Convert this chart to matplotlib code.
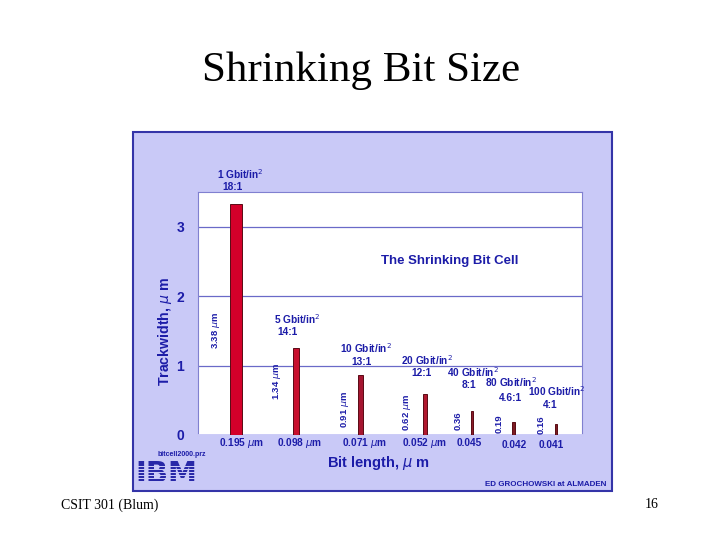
import matplotlib
matplotlib.use("Agg")
import matplotlib.pyplot as plt
from matplotlib.patches import Rectangle

# data
densities = ["1 Gbit/in$^2$", "5 Gbit/in$^2$", "10 Gbit/in$^2$", "20 Gbit/in$^2$",
             "40 Gbit/in$^2$", "80 Gbit/in$^2$", "100 Gbit/in$^2$"]
ratios = ["18:1", "14:1", "13:1", "12:1", "8:1", "4.6:1", "4:1"]
bit_length = [0.195, 0.098, 0.071, 0.052, 0.045, 0.042, 0.041]
bit_labels = ["0.195 $\\mu$m", "0.098 $\\mu$m", "0.071 $\\mu$m", "0.052 $\\mu$m",
              "0.045", "0.042", "0.041"]
track_drawn = [3.33, 1.25, 0.86, 0.59, 0.345, 0.19, 0.16]
track_labels = ["3.38 $\\mu$m", "1.34 $\\mu$m", "0.91 $\\mu$m", "0.62 $\\mu$m",
                "0.36", "0.19", "0.16"]

W, H = 720, 540
navy = "#1c1ca8"
panel = "#c9c9f7"
bar_colors = ["#d4002a", "#c8102e", "#a51530", "#b0182f", "#8c1c2a", "#7c1c22", "#7c1c22"]

fig = plt.figure(figsize=(7.2, 5.4), dpi=100)
fig.patch.set_facecolor("white")


def fx(px):
    return px / W


def fy(py):
    return 1 - py / H


def ftext(px, py, s, **kw):
    fig.text(fx(px), fy(py), s, ha=kw.pop("ha", "center"), va=kw.pop("va", "center"),
             zorder=kw.pop("zorder", 4), **kw)


# slide text
ftext(361, 71, "Shrinking Bit Size", fontsize=31, family="Liberation Serif")
ftext(110, 505, "CSIT 301 (Blum)", fontsize=10, family="Liberation Serif")
ftext(652, 505, "16", fontsize=10, family="Liberation Serif")

# light blue panel behind the chart
fig.patches.append(Rectangle((fx(133), fy(491)), (612 - 133) / W, (491 - 132) / H,
                             transform=fig.transFigure, facecolor=panel,
                             edgecolor="#3434a8", linewidth=1.5, zorder=-1))

ax = fig.add_axes([fx(198), fy(435), (582 - 198) / W, (435 - 192) / H], zorder=1)
ax.set_facecolor("white")
px_per_x = 62.0
ax.set_xlim(0, 384 / px_per_x)
ax.set_ylim(0, 3.5)
for s in ["top", "right", "left"]:
    ax.spines[s].set_color("#8080d0")
    ax.spines[s].set_linewidth(0.8)
ax.spines["bottom"].set_color(panel)
ax.spines["bottom"].set_linewidth(2)
ax.set_xticks([])
ax.set_yticks([0, 1, 2, 3])
ax.tick_params(axis="y", length=0, pad=10, labelsize=10, labelcolor=navy)
for t in ax.get_yticklabels():
    t.set_fontweight("bold")
    t.set_family("Liberation Sans")
ax.grid(axis="y", color="#6a6ac8", linewidth=0.9)
ax.set_axisbelow(True)

bar_px = [236, 296, 360.5, 425, 472, 513.5, 556]
xs = [(p - 198) / px_per_x for p in bar_px]
widths = [b * 61.5 / px_per_x for b in bit_length]
ax.bar(xs, track_drawn, width=widths, color=bar_colors, edgecolor="#5a0a14",
       linewidth=0.7, zorder=3)

font = dict(family="Liberation Sans", color=navy, fontweight="bold")

# density / ratio labels above each bar
dens_pos = [(240, 174), (297, 319), (366, 348), (427, 360), (473, 372), (511, 382), (557, 391)]
ratio_pos = [(232, 187), (287, 332), (362, 362), (421, 373), (469, 385), (510, 398), (550, 405)]
for i in range(len(densities)):
    ftext(*dens_pos[i], densities[i], fontsize=7.3, **font)
    ftext(*ratio_pos[i], ratios[i], fontsize=7.3, **font)

# trackwidth labels (rotated)
track_pos = [(216, 330), (277, 381), (345, 409), (407, 412), (458, 421), (499, 424), (541, 425)]
for i in range(len(track_labels)):
    ftext(*track_pos[i], track_labels[i], fontsize=6.8, rotation=90, **font)

# bit length labels below the axis
bit_pos = [(241, 443), (299, 443), (364, 443), (424, 443), (469, 443), (514, 445), (551, 445)]
for i in range(len(bit_labels)):
    ftext(*bit_pos[i], bit_labels[i], fontsize=7.3, **font)

ftext(379, 463, "Bit length, $\\mu$ m", fontsize=10.5, **font)
ftext(165, 331, "Trackwidth, $\\mu$ m", fontsize=10.2, rotation=90, **font)
ftext(450, 261, "The Shrinking Bit Cell", fontsize=9.5, **font)
ftext(182, 455, "bitcell2000.prz", fontsize=5, **font)
ftext(546, 484, "ED GROCHOWSKI at ALMADEN", fontsize=5.8, **font)

# striped IBM logo
ftext(166, 474, "IBM", fontsize=21, family="DejaVu Sans", color="#2828a8",
      fontweight="bold")
for k in range(7):
    y0 = 465.5 + k * 3
    fig.patches.append(Rectangle((fx(136), fy(y0 + 1.1)), 62 / W, 1.1 / H,
                                 transform=fig.transFigure, facecolor=panel,
                                 edgecolor="none", zorder=5))

fig.savefig("out.png", dpi=100)
